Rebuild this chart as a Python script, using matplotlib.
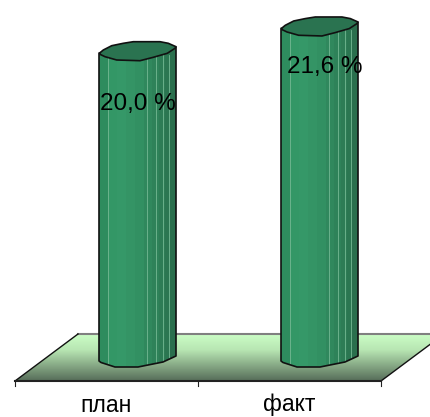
import matplotlib
matplotlib.use("Agg")
import matplotlib.pyplot as plt
import numpy as np
from matplotlib.patches import Polygon

categories = ["план", "факт"]
values = [20.0, 21.6]
value_labels = ["20,0 %", "21,6 %"]

W, H = 430, 417
x_unit = 182.0  # px per category
y_unit = 15.45  # px per percent
x_first = 138.0
y_zero = 362.0

# facet shades of the cylinder, left to right
facet_colors = ["#2e8c5e", "#339766", "#359868", "#349465", "#329062", "#30885d", "#2e8259", "#2d7c55", "#2b7651", "#2a6f4d"]
facet_edges = [0, 9, 18, 27, 36, 45, 53, 60, 66, 71, 77]
light_lines = [9, 48, 57, 64, 70]

plt.rcParams["font.family"] = ["Liberation Sans", "DejaVu Sans"]
fig = plt.figure(figsize=(W / 100, H / 100), dpi=100)
ax = fig.add_axes([0, 0, 1, 1])
ax.axis("off")


def dx(p):
    return p / x_unit


def dy(p):
    return p / y_unit


# floor, in pixels from the axis corner
x0, x1 = dx(15 - x_first), dx(381 - x_first)
y0, y1 = -dy(381 - y_zero), -dy(334 - y_zero)
shift = dx(63)
floor = Polygon([(x0, y0), (x0 + shift, y1), (x1 + shift, y1), (x1, y0)], closed=True,
                facecolor="none", edgecolor="none")
ax.add_patch(floor)
stops = np.array([[0.80, 1.00, 0.78], [0.72, 0.90, 0.70], [0.34, 0.43, 0.35]])
pos = np.linspace(0, 1, 64)
img = np.stack([np.interp(pos, [0, 0.35, 1], stops[:, k]) for k in range(3)], axis=1).reshape(-1, 1, 3)
im = ax.imshow(img, extent=(x0, x1 + shift, y0, y1), aspect="auto", origin="upper", zorder=1)
im.set_clip_path(floor)
ax.set_xlim(-x_first / x_unit, (W - x_first) / x_unit)
ax.set_ylim((y_zero - H) / y_unit, y_zero / y_unit)

ax.plot([x0 + shift, x1 + shift], [y1, y1], color="#808080", lw=1.5, zorder=2)
ax.plot([x0, x0 + shift], [y0, y1], color="#111111", lw=1.0, zorder=2)
ax.plot([x1, x1 + shift], [y0, y1], color="#111111", lw=1.0, zorder=2)
ax.plot([x0, x1], [y0, y0], color="#222222", lw=1.5, zorder=2)
for t in [x0, (x0 + x1) / 2, x1]:
    ax.plot([t, t], [y0, y0 - dy(5)], color="#222222", lw=0.8, zorder=2)

# cylinders, outline offsets in px from the left edge
top_shape = [(1, -0.3), (4.3, -3), (12.7, -7.3), (24.3, -9.7), (34.3, -11.3), (61, -11.3), (69.3, -9.7), (77, -6.3),
             (76, -4.7), (68.3, 0.3), (54.3, 4.3), (41, 7.7), (17.7, 7), (6, 3.7), (1, 1.3)]
bottom_shape = [(0, -1), (2, 0.5), (16, 5), (39, 5), (64, 0), (77, -6), (77, -8)]
for i, v in enumerate(values):
    bl = i - dx(39)
    for c, a, b in zip(facet_colors, facet_edges[:-1], facet_edges[1:]):
        ax.fill_between([bl + dx(a), bl + dx(b)], [-dy(6)] * 2, [v + dy(8)] * 2, color=c, lw=0, zorder=3)
    for e in light_lines:
        ax.plot([bl + dx(e)] * 2, [-dy(2), v - dy(2)], color="#74b893", lw=0.6, zorder=4)
    # outline of the body also clips the facets
    body = [(bl, v), (bl + dx(77), v + dy(6))]
    body += [(bl + dx(p), -dy(q)) for p, q in bottom_shape[::-1]]
    clip = Polygon(body, closed=True, facecolor="none", edgecolor="#111111", lw=1.2, zorder=5, joinstyle="round")
    ax.add_patch(clip)
    for art in ax.collections[-len(facet_colors):]:
        art.set_clip_path(clip)
    for art in ax.lines[-len(light_lines):]:
        art.set_clip_path(clip)
    cap = [(bl + dx(p), v - dy(q)) for p, q in top_shape]
    ax.add_patch(Polygon(cap, closed=True, facecolor="#2a7350", edgecolor="#111111", lw=1.2, zorder=6, joinstyle="round"))

# value labels
ax.text(0, 20.0 - dy(51), value_labels[0], ha="center", va="center", fontsize=17.5, color="black", zorder=7)
ax.text(1 + dx(5), 21.6 - dy(39), value_labels[1], ha="center", va="center", fontsize=17.5, color="black", zorder=7)

# category labels sit in the middle of each tick interval
for i, c in enumerate(categories):
    ax.text(x0 + (i + 0.5) * (x1 - x0) / 2, -dy(411.5 - y_zero), c,
            ha="center", va="baseline", fontsize=16.5, color="black")

fig.savefig("out.png", dpi=100)
